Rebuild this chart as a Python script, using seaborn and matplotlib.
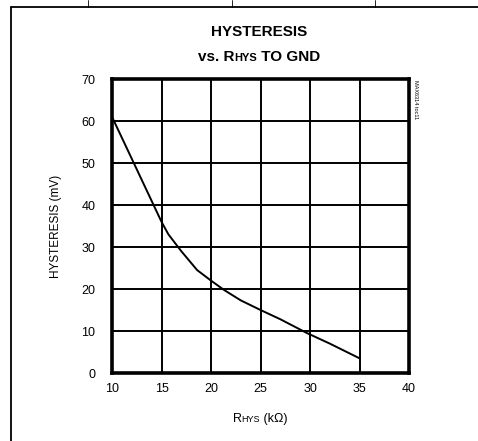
import matplotlib
matplotlib.use("Agg")
import matplotlib.pyplot as plt
import seaborn as sns
import pandas as pd
from matplotlib.lines import Line2D

r_hys = [10, 11, 12.5, 14, 15, 15.7, 17, 18.6, 20, 21.3, 23, 25, 27, 29.7, 32, 35]
hyst_mv = [61, 56, 48.5, 41, 36, 33, 29, 24.5, 22, 19.8, 17.3, 15, 12.8, 9.5, 7, 3.5]
x_ticks = [10, 15, 20, 25, 30, 35, 40]
y_ticks = [0, 10, 20, 30, 40, 50, 60, 70]

sns.set_style("white")
plt.rcParams["font.family"] = ["Liberation Sans", "DejaVu Sans"]
plt.rcParams["text.color"] = "black"
plt.rcParams["axes.labelcolor"] = "black"
plt.rcParams["xtick.color"] = "black"
plt.rcParams["ytick.color"] = "black"

fig = plt.figure(figsize=(4.78, 4.41), dpi=100)
ax = fig.add_axes([112/478, 1-373/441, (409-112)/478, (373-79)/441])

df = pd.DataFrame({"r": r_hys, "h": hyst_mv})
sns.lineplot(data=df, x="r", y="h", ax=ax, color="black", linewidth=1.4, sort=False)

ax.set_xlim(10, 40)
ax.set_ylim(0, 70)
ax.set_xticks(x_ticks)
ax.set_yticks(y_ticks)
ax.grid(True, color="black", linewidth=1.4)
ax.set_axisbelow(True)
for s in ax.spines.values():
    s.set_visible(True)
    s.set_color("black")
    s.set_linewidth(2.6)
ax.tick_params(axis="both", length=0, labelsize=9, colors="black")
ax.tick_params(axis="y", pad=12)
ax.tick_params(axis="x", pad=7)
ax.set_xlabel("")
ax.set_ylabel("HYSTERESIS (mV)", fontsize=8.5, labelpad=14, color="black")

def pieces(x, y, parts):
    renderer = fig.canvas.get_renderer()
    texts = []
    total = 0
    for s, size, bold in parts:
        t = fig.text(0, y, s, fontsize=size, fontweight="bold" if bold else "normal",
                     va="baseline", ha="left", color="black")
        w = t.get_window_extent(renderer=renderer).width
        texts.append((t, w))
        total += w
    cur = x * fig.bbox.width - total / 2
    for t, w in texts:
        t.set_x(cur / fig.bbox.width)
        cur += w

pieces(260/478, 1-422/441, [("R", 9, False), ("HYS", 6.5, False), (" (kΩ)", 9, False)])
fig.text(259/478, 1-36/441, "HYSTERESIS", fontsize=11, fontweight="bold",
         ha="center", va="baseline", color="black")
pieces(259/478, 1-61/441, [("vs. R", 11, True), ("HYS", 8, True), (" TO GND", 11, True)])

fig.text(416/478, 1-80/441, "MAX6314 toc11", fontsize=4, rotation=270,
         ha="center", va="top", color="black")

# outer frame
fig.add_artist(Line2D([11/478, 11/478], [0, 1-7/441], color="black", linewidth=1.3,
                      transform=fig.transFigure))
fig.add_artist(Line2D([11/478, 1], [1-7/441, 1-7/441], color="black", linewidth=1.3,
                      transform=fig.transFigure))
for xp in [88, 232, 375]:
    fig.add_artist(Line2D([xp/478, xp/478], [1-7/441, 1], color="black", linewidth=0.6,
                          transform=fig.transFigure))

fig.savefig("out.png", dpi=100)
